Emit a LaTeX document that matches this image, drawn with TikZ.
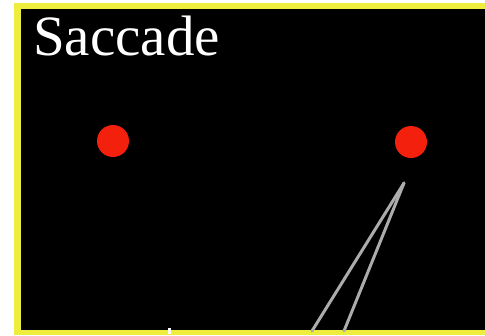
\documentclass[tikz,border=0pt]{standalone}
\usepackage{fontspec}
\setmainfont{Liberation Serif}
\usepackage{xcolor}
\usepackage{tikz}
\usetikzlibrary{positioning, calc}
\definecolor{frameyellow}{RGB}{238,236,60}
\definecolor{dotred}{RGB}{242,32,12}
\definecolor{tracegray}{RGB}{172,172,172}
\tikzstyle{target} = [circle,
minimum size=32pt,
inner sep=0pt,
fill=dotred]
\tikzstyle{title} = [anchor=base west,
inner sep=0pt,
text=white,
font=\fontsize{57}{57}\selectfont]
\tikzstyle{trace} = [line width=3pt, draw=tracegray, line cap=round]

\begin{document}
\begin{tikzpicture}[x=1pt, y=-1pt]
            \useasboundingbox (0,0) rectangle (485,335);
            \fill[white] (0,0) rectangle (485,335);
            % screen with yellow rim
            \fill[frameyellow] (14,3) rectangle (485,335);
            \fill[black] (21,9) rectangle (485,330);
            \node (label) [title] at (33,55) {Saccade};
            \node (left) [target] at (113,141) {};
            \node (right) [target] at (411,142) {};
            % eye trace
            \coordinate (apex) at (404,183);
            \coordinate (endA) at (312,331);
            \coordinate (endB) at (344,331);
            \draw [trace] (apex) -- (endA);
            \draw [trace] (apex) -- (endB);
            \coordinate (tick) at (169,328);
            \fill[white] ($(tick)+(-1.5,0)$) rectangle ($(tick)+(1.5,6)$);
        \end{tikzpicture}
\end{document}
